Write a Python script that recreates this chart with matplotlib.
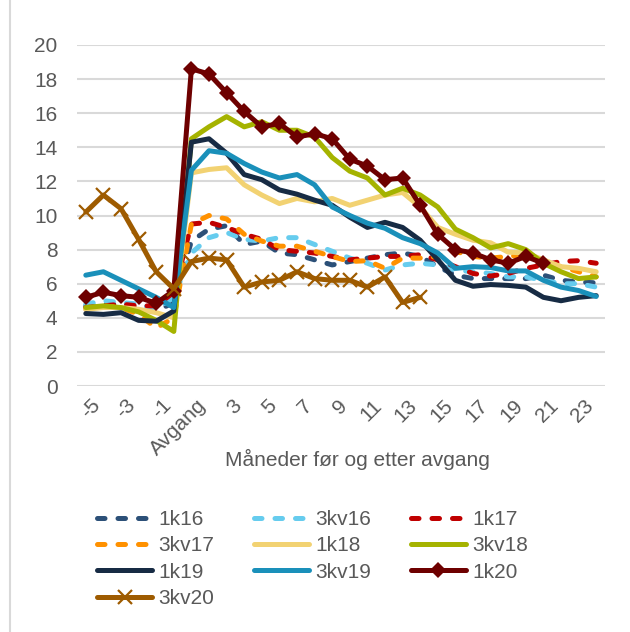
import numpy as np
import matplotlib
matplotlib.use("Agg")
import matplotlib.pyplot as plt
from matplotlib.lines import Line2D
import matplotlib.transforms as mtransforms

plt.rcParams['font.family'] = ['Liberation Sans', 'DejaVu Sans']

nan = np.nan
categories = ['-5', '-4', '-3', '-2', '-1', '0', 'Avgang'] + [str(i) for i in range(2, 25)]

k1_16 = [4.7, 4.8, 4.8, 4.6, 4.4, 4.9, 8.5, 9.2, 9.4, 8.3, 8.5, 7.8, 7.7, 7.4, 7.1, 7.3, 7.5, 7.7, 7.8, 7.6,
         7.0, 6.5, 6.3, 6.3, 6.3, 6.3, 6.5, 6.2, 6.1, 6.05]
kv3_16 = [4.8, 5.0, 4.9, 4.8, 4.5, 5.2, 7.8, 8.7, 9.0, 8.6, 8.5, 8.7, 8.7, 8.3, 7.9, 7.5, 7.2, 6.8, 7.1, 7.2,
          7.1, 6.8, 6.7, 6.6, 6.4, 6.4, 6.2, 6.0, 6.0, 5.8]
k1_17 = [4.6, 4.7, 4.8, 4.7, 4.7, 5.5, 9.5, 9.6, 9.3, 8.9, 8.6, 8.0, 7.9, 7.8, 7.6, 7.4, 7.5, 7.6, 7.6, 7.7,
         7.4, 7.0, 6.6, 6.45, 6.6, 6.9, 7.1, 7.3, 7.35, 7.2]
kv3_17 = [4.5, 4.7, 4.6, 4.2, 3.4, 4.0, 9.5, 10.0, 9.8, 8.9, 8.5, 8.2, 8.2, 7.9, 7.6, 7.3, 7.35, 6.9, 7.5, 7.5,
          7.6, 7.9, 7.6, 7.5, 7.6, 7.7, 7.3, 7.0, 6.7, 6.4]
k1_18 = [4.5, 4.6, 4.6, 4.5, 4.3, 4.0, 12.5, 12.7, 12.8, 11.8, 11.2, 10.7, 11.0, 10.8, 11.0, 10.6, 10.9, 11.2,
         11.35, 10.5, 9.3, 8.9, 8.55, 8.4, 7.85, 7.8, 7.4, 7.0, 6.9, 6.7]
kv3_18 = [4.6, 4.7, 4.6, 4.35, 3.85, 3.2, 14.5, 15.2, 15.8, 15.2, 15.5, 15.0, 15.0, 14.6, 13.4, 12.6, 12.2, 11.2,
          11.6, 11.2, 10.5, 9.2, 8.7, 8.1, 8.35, 8.0, 7.2, 6.7, 6.3, 6.4]
k1_19 = [4.25, 4.2, 4.3, 3.85, 3.8, 4.4, 14.3, 14.5, 13.65, 12.4, 12.1, 11.5, 11.25, 10.9, 10.6, 9.9, 9.3, 9.6,
         9.3, 8.55, 7.4, 6.2, 5.85, 5.95, 5.9, 5.8, 5.2, 5.0, 5.2, 5.3]
kv3_19 = [6.5, 6.7, 6.2, 5.7, 5.2, 4.6, 12.65, 13.8, 13.65, 13.05, 12.55, 12.2, 12.4, 11.8, 10.5, 10.0, 9.55,
          9.25, 8.7, 8.35, 7.8, 6.9, 7.0, 6.95, 6.75, 6.75, 6.2, 5.8, 5.6, 5.25]
k1_20 = [5.2, 5.5, 5.3, 5.2, 4.85, 5.6, 18.6, 18.3, 17.2, 16.1, 15.2, 15.4, 14.6, 14.8, 14.5, 13.3, 12.9, 12.1,
         12.2, 10.6, 8.9, 8.0, 7.8, 7.4, 7.2, 7.6, 7.2, nan, nan, nan]
kv3_20 = [10.2, 11.2, 10.4, 8.6, 6.7, 5.7, 7.3, 7.5, 7.4, 5.8, 6.1, 6.2, 6.7, 6.3, 6.2, 6.2, 5.8, 6.4, 4.9, 5.2,
          nan, nan, nan, nan, nan, nan, nan, nan, nan, nan]

series_names = ['1k16', '3kv16', '1k17', '3kv17', '1k18', '3kv18', '1k19', '3kv19', '1k20', '3kv20']
series_values = [k1_16, kv3_16, k1_17, kv3_17, k1_18, kv3_18, k1_19, kv3_19, k1_20, kv3_20]
colors = ['#2C5078', '#66CCEE', '#C00000', '#FF9100', '#F2D272', '#A5B300',
          '#172B44', '#1A90BA', '#6E0000', '#9E5B00']
dashed = [True, True, True, True, False, False, False, False, False, False]
markers = [None] * 8 + ['D', 'x']

W, H = 630, 632
fig = plt.figure(figsize=(W / 100, H / 100), dpi=100)
ax = fig.add_axes([77 / W, 1 - 386 / H, 528 / W, 341 / H])

x = np.arange(len(categories))
lw = 3.6
handles = []
for name, vals, c, d, m in zip(series_names, series_values, colors, dashed, markers):
    kw = dict(color=c, lw=lw, solid_capstyle='round', solid_joinstyle='round',
              dash_capstyle='round', label=name, zorder=3)
    if d:
        kw['dashes'] = (1.5, 2.6)
    if m == 'D':
        kw.update(marker='D', markersize=8, markeredgewidth=0)
    elif m == 'x':
        kw.update(marker='x', markersize=10, markeredgewidth=1.6)
    line, = ax.plot(x, vals, **kw)
    handles.append(line)

ax.set_ylim(0, 20)
ax.set_xlim(-0.5, len(categories) - 0.5)
ax.set_yticks(np.arange(0, 21, 2))
ax.yaxis.grid(True, color='#D9D9D9', lw=1.5)
ax.set_axisbelow(True)
for s in ax.spines.values():
    s.set_visible(False)
ax.tick_params(axis='both', length=0, labelsize=15, labelcolor='#595959')
ax.tick_params(axis='y', pad=14)
ax.set_xticks(x[::2])
ax.set_xticklabels(categories[::2], rotation=45, ha='right', va='top', rotation_mode='anchor')
ax.tick_params(axis='x', pad=7)
offset = mtransforms.ScaledTranslation(5 / 100, 0, fig.dpi_scale_trans)
for lab in ax.get_xticklabels():
    lab.set_transform(lab.get_transform() + offset)

fig.text(357 / W, 1 - 459 / H, 'Måneder før og etter avgang', ha='center', va='center',
         fontsize=15, color='#595959')

order = [0, 3, 6, 9, 1, 4, 7, 2, 5, 8]
leg = fig.legend(handles=[handles[i] for i in order], ncol=3, loc='upper left',
                 bbox_to_anchor=(97 / W, 1 - 510 / H),
                 frameon=False, fontsize=15, labelcolor='#595959', handlelength=2.65,
                 handletextpad=0.3, columnspacing=1.9, labelspacing=0.35, borderaxespad=0,
                 borderpad=0)

fig.add_artist(Line2D([10 / W, 10 / W], [0, 1], color='#D9D9D9', lw=1.5, transform=fig.transFigure))

fig.savefig('out.png', dpi=100, facecolor='white')
